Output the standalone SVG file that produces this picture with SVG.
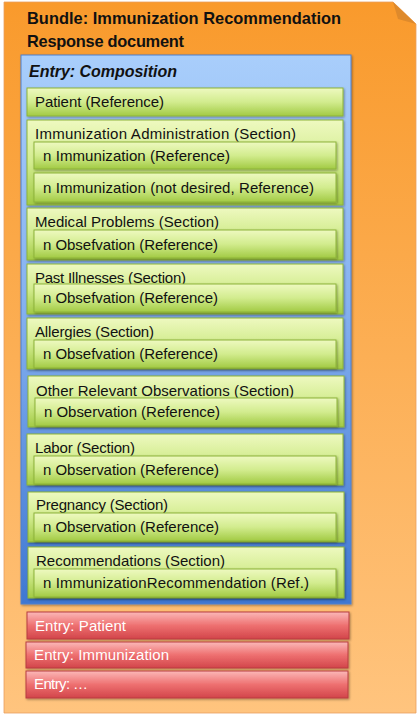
<svg xmlns="http://www.w3.org/2000/svg" width="420" height="720" viewBox="0 0 420 720">
<defs>
<linearGradient id="gOrange" x1="0" y1="0" x2="0" y2="1">
<stop offset="0" stop-color="#F99A2C"/>
<stop offset="1" stop-color="#FFC47E"/>
</linearGradient>
<linearGradient id="gBlue" x1="0" y1="0" x2="0" y2="1">
<stop offset="0" stop-color="#A9CEFB"/>
<stop offset="0.45" stop-color="#86B2F0"/>
<stop offset="1" stop-color="#3F77D2"/>
</linearGradient>
<linearGradient id="gGreen" x1="0" y1="0" x2="0" y2="1">
<stop offset="0" stop-color="#EEF9C0"/>
<stop offset="0.5" stop-color="#D2EC8E"/>
<stop offset="1" stop-color="#A2CA44"/>
</linearGradient>
<linearGradient id="gRed" x1="0" y1="0" x2="0" y2="1">
<stop offset="0" stop-color="#FBB8B8"/>
<stop offset="0.5" stop-color="#EE7070"/>
<stop offset="1" stop-color="#D2454A"/>
</linearGradient>
<filter id="sh" x="-5%" y="-20%" width="110%" height="150%">
<feDropShadow dx="1" dy="1.2" stdDeviation="0.8" flood-color="#000" flood-opacity="0.35"/>
</filter>
</defs>
<style>
.t{font-family:"Liberation Sans",Arial,sans-serif;font-size:15px;fill:#111}
.w{font-family:"Liberation Sans",Arial,sans-serif;font-size:15px;fill:#fff}
.title{font-family:"Liberation Sans",Arial,sans-serif;font-size:16.4px;font-weight:bold;fill:#111}
.comp{font-family:"Liberation Sans",Arial,sans-serif;font-size:16px;font-weight:bold;font-style:italic;fill:#111}
.gr{fill:url(#gGreen);stroke:#8DB33A;stroke-width:1;filter:url(#sh)}
.rd{fill:url(#gRed);stroke:#B83C40;stroke-width:1;filter:url(#sh)}
</style>
<g id="bundle">
<path d="M4,2 H393 L416,24 V713 H4 Z" fill="url(#gOrange)" stroke="#E8A060" stroke-width="0.8"/>
<path d="M393,2 L398,19 L416,24 Z" fill="#DE8A2C"/>
<text class="title" x="27" y="24" textLength="314">Bundle: Immunization Recommendation</text>
<text class="title" x="27" y="47" textLength="157">Response document</text>
</g>
<g id="composition">
<rect x="21" y="55" width="330" height="549" fill="url(#gBlue)" stroke="#4E80CC" stroke-width="1" filter="url(#sh)"/>
<text class="comp" x="29" y="77" textLength="148">Entry: Composition</text>
</g>
<g id="patient-ref">
<rect class="gr" x="27" y="88" width="316" height="28"/>
<text class="t" x="35" y="107" textLength="129">Patient (Reference)</text>
</g>
<g id="imm-admin">
<rect class="gr" x="27" y="120" width="316" height="85"/>
<text class="t" x="35" y="139" textLength="261">Immunization Administration (Section)</text>
<rect class="gr" x="34" y="142" width="302" height="27"/>
<text class="t" x="43" y="161" textLength="187">n Immunization (Reference)</text>
<rect class="gr" x="34" y="173" width="302" height="29"/>
<text class="t" x="43" y="193" textLength="271">n Immunization (not desired, Reference)</text>
</g>
<g id="medical">
<rect class="gr" x="27" y="208" width="316" height="52"/>
<text class="t" x="35" y="227" textLength="184">Medical Problems (Section)</text>
<rect class="gr" x="34" y="230" width="302" height="28"/>
<text class="t" x="43" y="250" textLength="175">n Obsefvation (Reference)</text>
</g>
<g id="past">
<rect class="gr" x="27" y="264" width="316" height="50"/>
<text class="t" x="35" y="283" textLength="151">Past Illnesses (Section)</text>
<rect class="gr" x="34" y="284" width="302" height="28"/>
<text class="t" x="43" y="303" textLength="175">n Obsefvation (Reference)</text>
</g>
<g id="allergies">
<rect class="gr" x="27" y="318" width="316" height="51"/>
<text class="t" x="35" y="337" textLength="119">Allergies (Section)</text>
<rect class="gr" x="34" y="340" width="302" height="28"/>
<text class="t" x="43" y="359" textLength="175">n Obsefvation (Reference)</text>
</g>
<g id="other">
<rect class="gr" x="28" y="376" width="316" height="51"/>
<text class="t" x="36" y="396" textLength="258">Other Relevant Observations (Section)</text>
<rect class="gr" x="35" y="398" width="302" height="28"/>
<text class="t" x="44" y="417" textLength="176">n Observation (Reference)</text>
</g>
<g id="labor">
<rect class="gr" x="27" y="434" width="316" height="51"/>
<text class="t" x="35" y="453" textLength="100">Labor (Section)</text>
<rect class="gr" x="34" y="456" width="302" height="28"/>
<text class="t" x="43" y="475" textLength="176">n Observation (Reference)</text>
</g>
<g id="pregnancy">
<rect class="gr" x="28" y="492" width="316" height="50"/>
<text class="t" x="36" y="510" textLength="132">Pregnancy (Section)</text>
<rect class="gr" x="34" y="513" width="302" height="28"/>
<text class="t" x="43" y="532" textLength="176">n Observation (Reference)</text>
</g>
<g id="recommendations">
<rect class="gr" x="28" y="547" width="316" height="51"/>
<text class="t" x="36" y="566" textLength="189">Recommendations (Section)</text>
<rect class="gr" x="34" y="569" width="302" height="28"/>
<text class="t" x="43" y="588" textLength="266">n ImmunizationRecommendation (Ref.)</text>
</g>
<g id="entry-patient">
<rect class="rd" x="27" y="612" width="322" height="27"/>
<text class="w" x="35" y="631" textLength="91">Entry: Patient</text>
</g>
<g id="entry-immunization">
<rect class="rd" x="26" y="642" width="322" height="26"/>
<text class="w" x="34" y="660" textLength="135">Entry: Immunization</text>
</g>
<g id="entry-more">
<rect class="rd" x="26" y="671" width="322" height="27"/>
<text class="w" x="34" y="689" textLength="54">Entry: …</text>
</g>
<g id="connectors"/>
</svg>
